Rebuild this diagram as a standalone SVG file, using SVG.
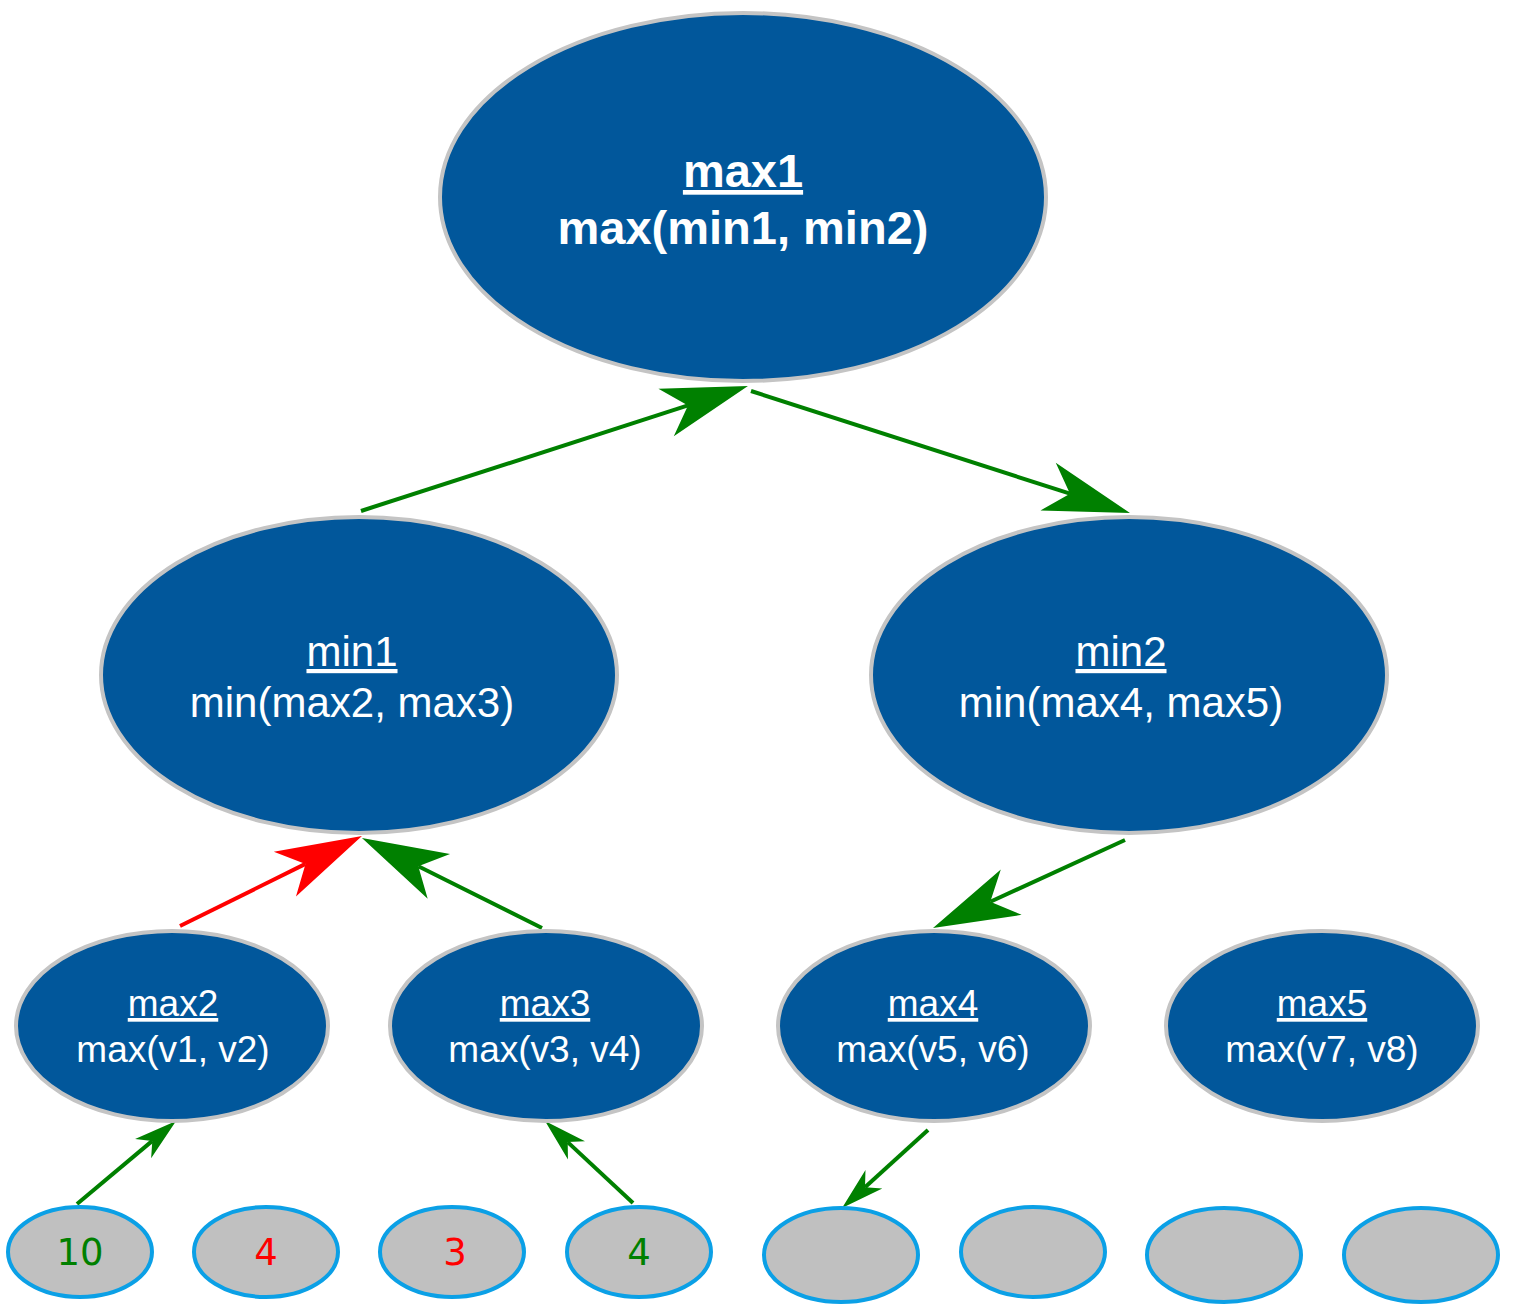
<svg xmlns="http://www.w3.org/2000/svg" width="1517" height="1309" viewBox="0 0 1517 1309">
<style>
.node{fill:#01579b;stroke:#c4c4c4;stroke-width:4}
.leaf{fill:#c0c0c0;stroke:#0ba0e6;stroke-width:4}
.t{font-family:"Liberation Sans",Arial,sans-serif;fill:#ffffff;text-anchor:middle}
.b{font-weight:bold;font-size:47px}
.m{font-size:42px}
.s{font-size:37px}
.u{text-decoration:underline}
.n{font-family:"DejaVu Sans",sans-serif;font-size:37px;text-anchor:middle}
.e{fill:none;stroke-width:4;stroke-linecap:butt}
.g{stroke:#008000}
.r{stroke:#ff0000}
</style>
<defs>
<marker id="ag" markerUnits="userSpaceOnUse" viewBox="0 -26 87 52" refX="23" refY="0" markerWidth="87" markerHeight="52" orient="auto" overflow="visible">
<path d="M86,0 L0,-25 L23,0 L0,25 Z" fill="#008000"/>
</marker>
<marker id="ar" markerUnits="userSpaceOnUse" viewBox="0 -26 87 52" refX="23" refY="0" markerWidth="87" markerHeight="52" orient="auto" overflow="visible">
<path d="M86,0 L0,-25 L23,0 L0,25 Z" fill="#ff0000"/>
</marker>
<marker id="sg" markerUnits="userSpaceOnUse" viewBox="0 -13 44 26" refX="12" refY="0" markerWidth="44" markerHeight="26" orient="auto" overflow="visible">
<path d="M43,0 L0,-12.5 L12,0 L0,12.5 Z" fill="#008000"/>
</marker>
</defs>
<g id="connectors">
<line class="e g" x1="361" y1="511" x2="688" y2="405.4" marker-end="url(#ag)"/>
<line class="e g" x1="751" y1="391" x2="1070" y2="493.7" marker-end="url(#ag)"/>
<line class="e r" x1="180" y1="926" x2="305.5" y2="863.9" marker-end="url(#ar)"/>
<line class="e g" x1="542" y1="928" x2="418.3" y2="866.2" marker-end="url(#ag)"/>
<line class="e g" x1="1125" y1="840" x2="990.3" y2="901.7" marker-end="url(#ag)"/>
<line class="e g" x1="77" y1="1204" x2="152.3" y2="1140.9" marker-end="url(#sg)"/>
<line class="e g" x1="633" y1="1203" x2="567.7" y2="1142.1" marker-end="url(#sg)"/>
<line class="e g" x1="928" y1="1130" x2="865" y2="1187.2" marker-end="url(#sg)"/>
</g>
<g id="max1">
<ellipse class="node" cx="743" cy="197" rx="303" ry="184"/>
<text class="t b u" x="743" y="187">max1</text>
<text class="t b" x="743" y="244">max(min1, min2)</text>
</g>
<g id="min1">
<ellipse class="node" cx="359" cy="675" rx="258" ry="158"/>
<text class="t m u" x="352" y="666">min1</text>
<text class="t m" x="352" y="717">min(max2, max3)</text>
</g>
<g id="min2">
<ellipse class="node" cx="1129" cy="675" rx="258" ry="158"/>
<text class="t m u" x="1121" y="666">min2</text>
<text class="t m" x="1121" y="717">min(max4, max5)</text>
</g>
<g id="max2">
<ellipse class="node" cx="172" cy="1026" rx="156" ry="95"/>
<text class="t s u" x="173" y="1016">max2</text>
<text class="t s" x="173" y="1062">max(v1, v2)</text>
</g>
<g id="max3">
<ellipse class="node" cx="546" cy="1026" rx="156" ry="95"/>
<text class="t s u" x="545" y="1016">max3</text>
<text class="t s" x="545" y="1062">max(v3, v4)</text>
</g>
<g id="max4">
<ellipse class="node" cx="934" cy="1026" rx="156" ry="95"/>
<text class="t s u" x="933" y="1016">max4</text>
<text class="t s" x="933" y="1062">max(v5, v6)</text>
</g>
<g id="max5">
<ellipse class="node" cx="1322" cy="1026" rx="156" ry="95"/>
<text class="t s u" x="1322" y="1016">max5</text>
<text class="t s" x="1322" y="1062">max(v7, v8)</text>
</g>
<g id="leaf1">
<ellipse class="leaf" cx="80" cy="1252" rx="72" ry="45"/>
<text class="n" x="80" y="1265" fill="#008000">10</text>
</g>
<g id="leaf2">
<ellipse class="leaf" cx="266" cy="1252" rx="72" ry="45"/>
<text class="n" x="266" y="1265" fill="#ff0000">4</text>
</g>
<g id="leaf3">
<ellipse class="leaf" cx="452" cy="1252" rx="72" ry="45"/>
<text class="n" x="455" y="1265" fill="#ff0000">3</text>
</g>
<g id="leaf4">
<ellipse class="leaf" cx="639" cy="1252" rx="72" ry="45"/>
<text class="n" x="639" y="1265" fill="#008000">4</text>
</g>
<g id="leaf5">
<ellipse class="leaf" cx="841" cy="1255" rx="77" ry="47"/>
</g>
<g id="leaf6">
<ellipse class="leaf" cx="1033" cy="1252" rx="72" ry="45"/>
</g>
<g id="leaf7">
<ellipse class="leaf" cx="1224" cy="1255" rx="77" ry="47"/>
</g>
<g id="leaf8">
<ellipse class="leaf" cx="1421" cy="1255" rx="77" ry="47"/>
</g>
</svg>
